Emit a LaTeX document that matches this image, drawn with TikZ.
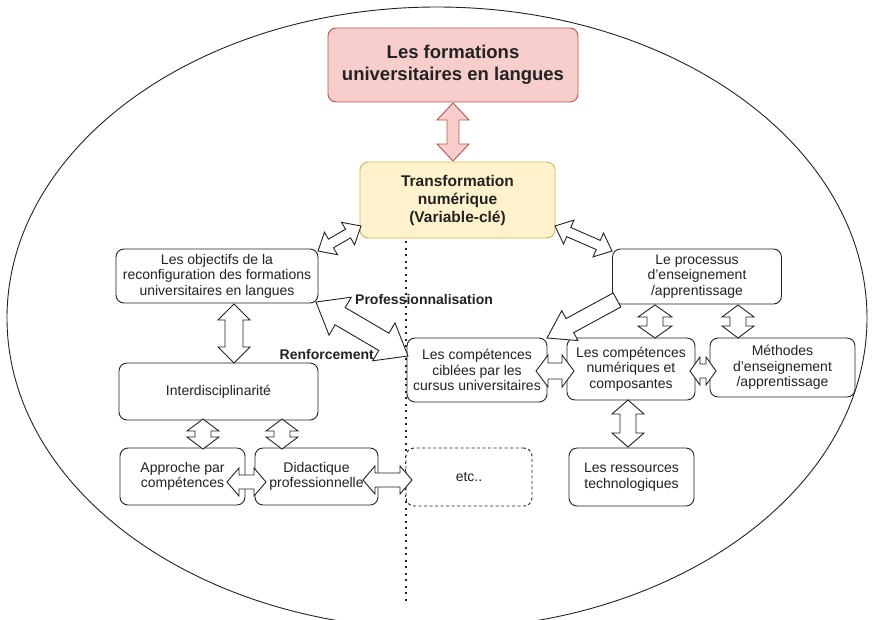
\documentclass[tikz,border=0pt]{standalone}
\usepackage{fontspec}
\setmainfont{Liberation Sans}
\usetikzlibrary{calc}
\definecolor{redfill}{HTML}{F8CECC}
\definecolor{redline}{HTML}{B85450}
\definecolor{yelfill}{HTML}{FFF2CC}
\definecolor{yelline}{HTML}{D6B656}
\definecolor{ink}{HTML}{222222}
% double block arrow: [style]{from}{to}{half shaft}{half head}{head length}
\newcommand\blockdbl[6][]{%
  \draw[blockarrow,#1] (#2)
   -- ($(#2)!#6pt!(#3)!#5pt!90:(#3)$)
   -- ($(#2)!#6pt!(#3)!#4pt!90:(#3)$)
   -- ($(#3)!#6pt!(#2)!#4pt!-90:(#2)$)
   -- ($(#3)!#6pt!(#2)!#5pt!-90:(#2)$)
   -- (#3)
   -- ($(#3)!#6pt!(#2)!#5pt!90:(#2)$)
   -- ($(#3)!#6pt!(#2)!#4pt!90:(#2)$)
   -- ($(#2)!#6pt!(#3)!#4pt!-90:(#3)$)
   -- ($(#2)!#6pt!(#3)!#5pt!-90:(#3)$)
   -- cycle;}
% single block arrow: [style]{tail}{tip}{half shaft}{half head}{head length}
\newcommand\blocksgl[6][]{%
  \draw[blockarrow,#1] ($(#2)!#4pt!90:(#3)$)
   -- ($(#3)!#6pt!(#2)!#4pt!-90:(#2)$)
   -- ($(#3)!#6pt!(#2)!#5pt!-90:(#2)$)
   -- (#3)
   -- ($(#3)!#6pt!(#2)!#5pt!90:(#2)$)
   -- ($(#3)!#6pt!(#2)!#4pt!90:(#2)$)
   -- ($(#2)!#4pt!-90:(#3)$)
   -- cycle;}
\begin{document}
\begin{tikzpicture}[x=1pt,y=-1pt,
  box/.style={draw=ink, rounded corners=8pt, fill=white, align=center,
    font=\fontsize{14}{15.5}\selectfont, text=ink, line width=0.9pt, inner sep=1pt},
  blockarrow/.style={draw=ink, fill=white, line width=0.9pt, line join=miter},
  lbl/.style={font=\fontsize{14}{16}\selectfont\bfseries, text=ink, inner sep=0pt},
]
\useasboundingbox (0,0) rectangle (872,619);
\clip (0,0) rectangle (872,619);
\draw[ink, line width=0.9pt] (437,318) ellipse [x radius=430, y radius=311];
\coordinate (dtop) at (406,241);
\coordinate (dbot) at (406,605);
\draw[ink, line width=2pt, dash pattern=on 2pt off 4.5pt] (dtop) -- (dbot);

\node[box, draw=redline, fill=redfill, minimum width=250pt, minimum height=74pt,
  font=\fontsize{18.5}{22}\selectfont\bfseries] (top) at (453,65)
  {Les formations\\universitaires en langues};
\node[box, draw=yelline, fill=yelfill, minimum width=195pt, minimum height=76pt,
  font=\fontsize{15.5}{18}\selectfont\bfseries] (tn) at (457.5,200)
  {Transformation\\num\'erique\\(Variable-cl\'e)};
\node[box, minimum width=202pt, minimum height=54pt] (obj) at (217,276)
  {Les objectifs de la\\reconfiguration des formations\\universitaires en langues};
\node[box, minimum width=169pt, minimum height=55pt] (proc) at (697,276.5)
  {Le processus\\d’enseignement\\/apprentissage};
\node[box, minimum width=199pt, minimum height=57pt] (inter) at (218.5,391.5)
  {Interdisciplinarité};
\node[box, minimum width=125pt, minimum height=57pt] (appr) at (182.5,476.5)
  {Approche par\\compétences};
\node[box, minimum width=123pt, minimum height=57pt] (dida) at (316.5,476.5)
  {Didactique\\professionnelle};
\node[box, dashed, dash pattern=on 3pt off 2.5pt, minimum width=126pt, minimum height=58pt] (etc) at (469,477)
  {etc..};
\node[box, minimum width=125pt, minimum height=58pt] (res) at (631.5,477)
  {Les ressources\\technologiques};
\node[box, minimum width=140pt, minimum height=64pt] (cib) at (477,370)
  {Les compétences\\ciblées par les\\cursus universitaires};
\node[box, minimum width=128pt, minimum height=62pt] (num) at (631,369)
  {Les compétences\\numériques et\\composantes};
\node[box, minimum width=145pt, minimum height=59pt] (meth) at (782.5,367.5)
  {Méthodes\\d’enseignement\\/apprentissage};

\node[lbl, anchor=west] (prof) at (355,299) {Professionnalisation};
\node[lbl, anchor=east] (renf) at (374,354) {Renforcement};

% arrow end points
\coordinate (a1) at (453,103);  \coordinate (b1) at (453,161);
\coordinate (a2) at (318,251);  \coordinate (b2) at (361,226);
\coordinate (a3) at (555,226);  \coordinate (b3) at (612,251);
\coordinate (a4) at (234,304);  \coordinate (b4) at (234,363);
\coordinate (a5) at (203,419);  \coordinate (b5) at (203,449);
\coordinate (a6) at (282,419);  \coordinate (b6) at (282,449);
\coordinate (a7) at (227,482);  \coordinate (b7) at (266,482);
\coordinate (a8) at (363,480);  \coordinate (b8) at (412,480);
\coordinate (a9) at (316,302);  \coordinate (b9) at (408,356);
\coordinate (a10) at (617,300); \coordinate (b10) at (547,338);
\coordinate (a11) at (536,371); \coordinate (b11) at (574,371);
\coordinate (a12) at (690,371); \coordinate (b12) at (716,371);
\coordinate (a13) at (655,305); \coordinate (b13) at (655,338);
\coordinate (a14) at (738,305); \coordinate (b14) at (738,338);
\coordinate (a15) at (628,400); \coordinate (b15) at (628,447);

\blockdbl[draw=redline, fill=redfill]{a1}{b1}{6}{16}{17}
\blockdbl{a2}{b2}{5}{13}{15}
\blockdbl{a3}{b3}{5}{13}{15}
\blockdbl{a4}{b4}{9}{16}{16}
\blockdbl{a5}{b5}{8}{16}{12}
\blockdbl{a6}{b6}{8}{16}{12}
\blockdbl{a7}{b7}{7}{14}{12}
\blockdbl{a8}{b8}{7}{14}{12}
\blockdbl{a9}{b9}{10}{22}{28}
\blocksgl{a10}{b10}{8}{17}{26}
\blockdbl{a11}{b11}{8}{16}{12}
\blockdbl{a12}{b12}{7}{14}{10}
\blockdbl{a13}{b13}{8}{17}{12}
\blockdbl{a14}{b14}{8}{16}{12}
\blockdbl{a15}{b15}{8}{16}{14}
\end{tikzpicture}
\end{document}
